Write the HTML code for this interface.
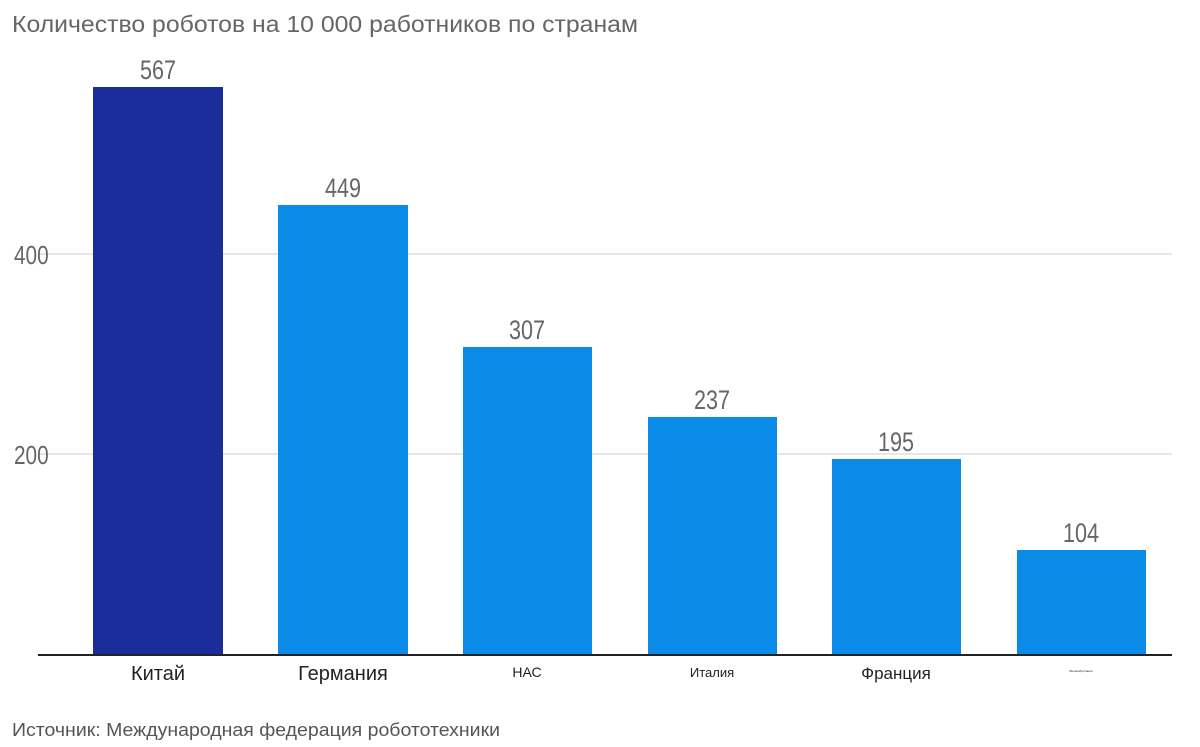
<!DOCTYPE html>
<html><head><meta charset="utf-8"><style>
body{margin:0;background:#fff;}
svg{display:block}
.v{font-family:"Liberation Sans",sans-serif;font-size:27px;fill:#666;text-anchor:middle}
.x{font-family:"Liberation Sans",sans-serif;fill:#222;text-anchor:middle}
</style></head><body>
<svg width="1200" height="747" viewBox="0 0 1200 747">
<text x="12" y="32" font-family="Liberation Sans, sans-serif" font-size="23" fill="#666" textLength="626" lengthAdjust="spacingAndGlyphs">Количество роботов на 10 000 работников по странам</text>
<line x1="38" y1="254" x2="1172" y2="254" stroke="#ddd" stroke-width="1.5"/>
<line x1="38" y1="454" x2="1172" y2="454" stroke="#ddd" stroke-width="1.5"/>
<g transform="translate(14,264) scale(0.8,1)"><text x="0" y="0" font-family="Liberation Sans, sans-serif" font-size="26" fill="#666">400</text></g>
<g transform="translate(14,464) scale(0.8,1)"><text x="0" y="0" font-family="Liberation Sans, sans-serif" font-size="26" fill="#666">200</text></g>
<rect x="93" y="87" width="130" height="568" fill="#1b2d9a"/>
<rect x="278" y="205" width="130" height="450" fill="#0a8be8"/>
<rect x="463" y="347" width="129" height="308" fill="#0a8be8"/>
<rect x="648" y="417" width="129" height="238" fill="#0a8be8"/>
<rect x="832" y="459" width="129" height="196" fill="#0a8be8"/>
<rect x="1017" y="550" width="129" height="105" fill="#0a8be8"/>
<line x1="38" y1="655" x2="1172" y2="655" stroke="#222" stroke-width="2"/>
<g transform="translate(158,79) scale(0.8,1)"><text class="v">567</text></g>
<g transform="translate(343,197) scale(0.8,1)"><text class="v">449</text></g>
<g transform="translate(527,339) scale(0.8,1)"><text class="v">307</text></g>
<g transform="translate(712,409) scale(0.8,1)"><text class="v">237</text></g>
<g transform="translate(896,451) scale(0.8,1)"><text class="v">195</text></g>
<g transform="translate(1081,542) scale(0.8,1)"><text class="v">104</text></g>
<text class="x" x="158" y="680" font-size="20">Китай</text>
<text class="x" x="343" y="680" font-size="20">Германия</text>
<text class="x" x="527" y="677" font-size="14">НАС</text>
<text class="x" x="712" y="677" font-size="13">Италия</text>
<text class="x" x="896" y="679" font-size="17">Франция</text>
<text class="x" x="1081" y="672" font-size="3">Великобритания</text>
<text x="12" y="736" font-family="Liberation Sans, sans-serif" font-size="18" fill="#555" textLength="488" lengthAdjust="spacingAndGlyphs">Источник: Международная федерация робототехники</text>
</svg>
</body></html>
